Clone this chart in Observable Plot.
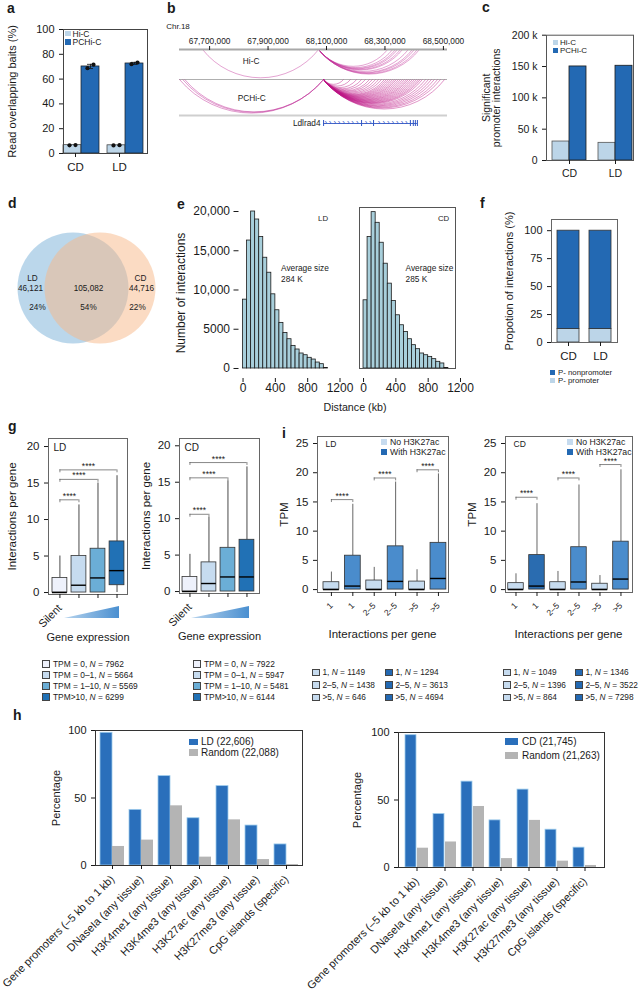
<!DOCTYPE html>
<html>
<head>
<meta charset="utf-8">
<script src="https://cdn.jsdelivr.net/npm/d3@7"></script>
<script src="https://cdn.jsdelivr.net/npm/@observablehq/plot@0.6"></script>
<style>
html,body{margin:0;padding:0;background:#fff;}
#root{position:relative;width:640px;height:993px;overflow:hidden;font-family:"Liberation Sans",Arial,Helvetica,sans-serif;color:#1a1a1a;background:#fff;}
#root > svg{position:absolute;overflow:visible;}
.t{position:absolute;white-space:nowrap;line-height:1;}
.letter{position:absolute;font-weight:bold;font-size:14px;line-height:14px;}
.leg{position:absolute;white-space:nowrap;}
.leg .row{display:flex;align-items:center;}
.leg .sq{display:inline-block;box-sizing:border-box;flex:none;}
</style>
</head>
<body>
<div id="root"></div>
<script>
// ================= DATA =================
// a
const aGroups = ["CD", "LD"];
const aHiC = [6.7, 6.6];
const aHiCReps = [[6.6, 6.8], [6.5, 6.7]];
const aPCHiC = [70.2, 72.6];
const aPCHiCReps = [[68.8, 71.6], [72.0, 73.3]];
const aPCHiCLow = [68.5, 71.8];
const aPCHiCHigh = [71.9, 73.5];
const aTicks = [0, 20, 40, 60, 80, 100];
// b (genomic coordinates, Chr.18)
const bTicks = [67700000, 67900000, 68100000, 68300000, 68500000];
const bHiCStart = [67676000, 68073000, 68073000, 68073000, 68073000, 68073000, 68073000, 68073000, 68073000, 68073000, 68073000, 68073000];
const bHiCEnd = [68073000, 68309000, 68326000, 68336000, 68343000, 68353000, 68360000, 68380000, 68394000, 68401000, 68411000, 68418000];
const bPCStart = [67597000, 67608000, 67615000];
const bPCEnd = [68090000, 68090000, 68090000];
const bPCAnchor = 68090000;
const bPCTargets = [68158000, 68182000, 68203000, 68220000, 68233000, 68247000, 68257000, 68268000, 68278000, 68288000, 68298000, 68305000, 68312000, 68319000, 68326000, 68333000, 68339000, 68346000, 68353000, 68360000, 68367000, 68374000, 68380000, 68387000, 68394000, 68401000, 68408000, 68415000, 68421000, 68428000, 68439000, 68449000, 68459000, 68469000, 68480000, 68490000, 68504000];
const bGeneName = "Ldlrad4";
const bGeneStart = 68090000, bGeneEnd = 68411000;
const bGeneExons = [68090000, 68220000, 68261000, 68387000, 68397000, 68404000, 68411000];
const bGeneStrand = [68097000, 68112000, 68128000, 68143000, 68158000, 68174000, 68189000, 68205000, 68235000, 68250000, 68280000, 68296000, 68311000, 68327000, 68342000, 68358000, 68373000];
// c
const cGroups = ["CD", "LD"];
const cHiC = [30300, 28200];
const cPCHiC = [150100, 151200];
const cTicks = [0, 50000, 100000, 150000, 200000];
// d
const dSets = ["LD", "CD"];
const dOnly = ["46,121", "44,716"];
const dOnlyPct = ["24%", "22%"];
const dShared = "105,082";
const dSharedPct = "54%";
// e
const eBinStart = [0, 50, 100, 150, 200, 250, 300, 350, 400, 450, 500, 550, 600, 650, 700, 750, 800, 850, 900, 950, 1000];
const eBinEnd = [50, 100, 150, 200, 250, 300, 350, 400, 450, 500, 550, 600, 650, 700, 750, 800, 850, 900, 950, 1000, 1050];
const eLD = [8770, 16300, 20000, 18980, 16740, 14110, 12200, 9450, 7420, 5810, 4530, 3730, 2880, 2420, 1910, 1690, 1360, 1140, 760, 550, 60];
const eCD = [8690, 16740, 19920, 18560, 16020, 13350, 10810, 8600, 6780, 5510, 4660, 3730, 2970, 2460, 1910, 1690, 1480, 1190, 850, 640, 60];
const eAvg = ["Average size\n284 K", "Average size\n285 K"];
const eYTicks = [0, 5000, 10000, 15000, 20000];
const eXTicks = [0, 400, 800, 1200];
// f
const fGroups = ["CD", "LD"];
const fPromoter = [12, 12];
const fNonPromoter = [88, 88];
const fTicks = [0, 25, 50, 75, 100];
// g
const gXLabels = ["Silent", "", "", ""];
const gLDq1 = [0, 0, 0, 1], gLDmed = [0, 1, 2, 3], gLDq3 = [2, 5, 6, 7], gLDlo = [0, 0, 0, 0], gLDhi = [5, 12, 15, 16];
const gCDq1 = [0, 0, 0, 0], gCDmed = [0, 1.1, 2, 2], gCDq3 = [2, 4, 6, 7.1], gCDlo = [0, 0, 0, 0], gCDhi = [5.1, 10.2, 15.2, 17.1];
const gLDBrFrom = [0, 0, 0], gLDBrTo = [1, 2, 3], gLDBrY = [12.7, 15.5, 16.8];
const gCDBrFrom = [0, 0, 0], gCDBrTo = [1, 2, 3], gCDBrY = [10.6, 15.6, 17.7];
const gTicks = [0, 5, 10, 15, 20];
const gLegCats = ["TPM = 0", "TPM = 0\u20131", "TPM = 1\u201310", "TPM>10"];
const gLDN = [7962, 5664, 5569, 6299];
const gCDN = [7922, 5947, 5481, 6144];
// i
const iXLabels = ["1", "1", "2\u20135", "2\u20135", ">5", ">5"];
const iLDq1 = [0, 0, 0, 0, 0, 0], iLDmed = [0, 0.6, 0, 1.4, 0, 1.9], iLDq3 = [1.26, 5.8, 1.55, 7.4, 1.37, 8.0], iLDlo = [0, 0, 0, 0, 0, 0], iLDhi = [3.0, 14.6, 3.8, 18.4, 3.4, 19.8];
const iCDq1 = [0, 0, 0, 0, 0, 0], iCDmed = [0, 0.6, 0, 1.3, 0, 1.8], iCDq3 = [1.1, 5.9, 1.26, 7.25, 1.0, 8.2], iCDlo = [0, 0, 0, 0, 0, 0], iCDhi = [2.7, 14.7, 3.1, 17.9, 2.4, 20.5];
const iLDBrFrom = [0, 2, 4], iLDBrTo = [1, 3, 5], iLDBrY = [15.4, 19.1, 20.5];
const iCDBrFrom = [0, 2, 4], iCDBrTo = [1, 3, 5], iCDBrY = [15.8, 19.1, 21.4];
const iTicks = [0, 5, 10, 15, 20, 25];
const iLegCats = ["1", "2\u20135", ">5"];
const iLDNo = [1149, 1438, 646], iLDWith = [1294, 3613, 4694];
const iCDNo = [1049, 1396, 864], iCDWith = [1346, 3522, 7298];
// h
const hCats = ["Gene promoters (\u20135 kb to 1 kb)", "DNaseIa (any tissue)", "H3K4me1 (any tissue)", "H3K4me3 (any tissue)", "H3K27ac (any tissue)", "H3K27me3 (any tissue)", "CpG islands (specific)"];
const hLD = [98.3, 41.2, 66.2, 35.0, 58.8, 29.6, 15.6];
const hLDRandom = [14.1, 18.8, 44.2, 6.2, 33.8, 4.4, 0.7];
const hCD = [98.0, 39.6, 63.6, 34.9, 57.7, 28.0, 14.7];
const hCDRandom = [14.3, 18.9, 45.2, 6.6, 34.9, 4.7, 1.5];
const hLegLD = ["LD (22,606)", "Random (22,088)"];
const hLegCD = ["CD (21,745)", "Random (21,263)"];
const hTicks = [0, 50, 100];

// ================= STYLE / HELPERS =================
const FONT = '"Liberation Sans", Arial, Helvetica, sans-serif';
const LIGHT = "#bcd5e8", DARK = "#2369b3";
const root = document.getElementById("root");
function put(el, left, top) { el.style.position = "absolute"; el.style.left = left + "px"; el.style.top = top + "px"; root.appendChild(el); return el; }
function sty(fs) { return {fontFamily: FONT, fontSize: fs + "px", background: "transparent", overflow: "visible", color: "#1a1a1a", maxWidth: "none"}; }
function text(html, cx, cy, fs, extra = "") { const d = document.createElement("div"); d.className = "t"; d.innerHTML = html; d.style.cssText = `font-size:${fs}px;transform:translate(-50%,-50%);${extra}`; return put(d, cx, cy); }
function letter(ch, x, baseline) { const d = document.createElement("div"); d.className = "letter"; d.textContent = ch; return put(d, x, baseline - 11.85); }
function legend(items, left, top, {fs = 8.4, w = 8, h = 8, rowH = 11, border = "0.7px solid #444", gap = 3} = {}) {
  const d = document.createElement("div"); d.className = "leg"; d.style.fontSize = fs + "px";
  for (const it of items) {
    const r = document.createElement("div"); r.className = "row"; r.style.height = rowH + "px";
    const s = document.createElement("span"); s.className = "sq";
    s.style.cssText = `width:${w}px;height:${h}px;background:${it.color};border:${it.border ?? border};margin-right:${gap}px;`;
    const t = document.createElement("span"); t.innerHTML = it.label;
    r.append(s, t); d.append(r);
  }
  return put(d, left, top);
}

// ================= PANEL a =================
{
  const hic = aGroups.map((g, i) => ({g, v: aHiC[i]}));
  const pc = aGroups.map((g, i) => ({g, v: aPCHiC[i], lo: aPCHiCLow[i], hi: aPCHiCHigh[i]}));
  const dotsFor = (reps, dxs) => dxs.map((dx, r) => Plot.dot(aGroups.map((g, i) => ({g, v: reps[i][r]})), {x: "g", y: "v", dx, r: 2.1, fill: "#111", stroke: "none"}));
  const svg = Plot.plot({
    width: 160, height: 190, marginLeft: 63, marginRight: 13, marginTop: 29, marginBottom: 37,
    style: sty(11),
    x: {domain: aGroups, paddingInner: 8 / 44, paddingOuter: 2 / 44, align: 0},
    y: {domain: [0, 100]},
    marks: [
      Plot.barY(hic, {x: "g", y: "v", fill: LIGHT, stroke: "#333", strokeWidth: 0.7, insetRight: 18}),
      Plot.barY(pc, {x: "g", y: "v", fill: DARK, stroke: "#1a1a1a", strokeWidth: 0.7, insetLeft: 18}),
      Plot.ruleX(pc, {x: "g", y1: "lo", y2: "hi", dx: 9, stroke: "#111", strokeWidth: 0.8}),
      Plot.tickY(pc, {x: "g", y: "lo", insetLeft: 24, insetRight: 6, stroke: "#111", strokeWidth: 0.8}),
      Plot.tickY(pc, {x: "g", y: "hi", insetLeft: 24, insetRight: 6, stroke: "#111", strokeWidth: 0.8}),
      ...dotsFor(aHiCReps, [-12, -6]),
      ...dotsFor(aPCHiCReps, [6, 12]),
      Plot.frame({stroke: "#444"}),
      Plot.axisY({ticks: aTicks, tickSize: 4, fontSize: 11, label: "Read overlapping baits (%)", labelAnchor: "center", labelOffset: 55.5, labelArrow: "none"}),
      Plot.axisX({tickSize: 4, fontSize: 11.5, dx: -6, label: null})
    ]
  });
  put(svg, 0, 0);
  legend([{label: "Hi-C", color: LIGHT}, {label: "PCHi-C", color: DARK}], 65, 29.5, {fs: 8.5, w: 5.5, h: 5.5, rowH: 8.4, border: "none", gap: 2});
  letter("a", 7, 13.3);
}

// ================= PANEL b =================
{
  const hic = bHiCStart.map((s, i) => ({s, e: bHiCEnd[i], t: 0}));
  const pcBig = bPCStart.map((s, i) => ({s, e: bPCEnd[i], t: 30}));
  const pcSmall = bPCTargets.map(e => ({s: bPCAnchor, e, t: 30}));
  const svg = Plot.plot({
    width: 330, height: 190, marginLeft: 19, marginRight: 43, marginTop: 49, marginBottom: 61,
    style: sty(8.3),
    x: {domain: [67597000, 68514000]},
    y: {domain: [0, 80], range: [49, 129], axis: null},
    marks: [
      Plot.ruleY([30], {stroke: "#9a9a9a", strokeWidth: 0.8}),
      Plot.ruleY([66], {stroke: "#cfcfcf", strokeWidth: 2}),
      Plot.arrow(hic, {x1: "s", x2: "e", y1: "t", y2: "t", bend: -52, headLength: 0, stroke: "#c2349a", strokeOpacity: 0.6, strokeWidth: 0.75, strokeLinecap: "butt"}),
      Plot.arrow(pcBig, {x1: "s", x2: "e", y1: "t", y2: "t", bend: -50, headLength: 0, stroke: "#c2349a", strokeOpacity: 0.65, strokeWidth: 0.75, strokeLinecap: "butt"}),
      Plot.arrow(pcSmall, {x1: "s", x2: "e", y1: "t", y2: "t", bend: -52, headLength: 0, stroke: "#bb1485", strokeOpacity: 0.6, strokeWidth: 0.75, strokeLinecap: "butt"}),
      Plot.ruleY([0], {stroke: "#a8a8a8", strokeWidth: 2}),
      Plot.text(["Hi-C"], {x: 67842000, y: 12, fontSize: 8.3}),
      Plot.text(["PCHi-C"], {x: 67844000, y: 49, fontSize: 8.3}),
      Plot.ruleY([{s: bGeneStart, e: bGeneEnd}], {x1: "s", x2: "e", y: 74, stroke: "#2f55c4", strokeWidth: 0.9}),
      Plot.ruleX(bGeneExons, {x: d => d, y1: 71, y2: 77, stroke: "#2f55c4", strokeWidth: 1}),
      Plot.text(bGeneStrand, {x: d => d, y: 74, text: () => "\u203A", fill: "#2f55c4", fontSize: 7.5, dy: -0.5}),
      Plot.text([bGeneName], {x: bGeneStart, y: 74, textAnchor: "end", dx: -3, fontSize: 8.3}),
      Plot.axisX({anchor: "top", ticks: bTicks, tickFormat: d3.format(","), tickSize: 4, tickPadding: 2, fontSize: 8.3, label: null})
    ]
  });
  put(svg, 160, 0);
  text("Chr.18", 178, 27, 8);
  letter("b", 167, 13.3);
}

// ================= PANEL c =================
{
  const hic = cGroups.map((g, i) => ({g, v: cHiC[i]}));
  const pc = cGroups.map((g, i) => ({g, v: cPCHiC[i]}));
  const svg = Plot.plot({
    width: 160, height: 190, marginLeft: 66, marginRight: 7, marginTop: 34.7, marginBottom: 30,
    style: sty(10.5),
    x: {domain: cGroups, paddingInner: 12 / 46, paddingOuter: 0.0755, align: 0.875},
    y: {domain: [0, 200000]},
    marks: [
      Plot.barY(hic, {x: "g", y: "v", fill: LIGHT, stroke: "#555", strokeWidth: 0.8, insetRight: 17}),
      Plot.barY(pc, {x: "g", y: "v", fill: DARK, stroke: "#1a1a1a", strokeWidth: 0.8, insetLeft: 17}),
      Plot.frame({stroke: "#555"}),
      Plot.axisY({ticks: cTicks, tickFormat: d => d === 0 ? "0" : d / 1000 + " k", tickSize: 4, fontSize: 10.5, label: "Significant\npromoter interactions", labelAnchor: "center", labelOffset: 64, labelArrow: "none"}),
      Plot.axisX({tickSize: 4, fontSize: 10.5, label: null})
    ]
  });
  put(svg, 480, 0);
  legend([{label: "Hi-C", color: LIGHT}, {label: "PCHi-C", color: DARK}], 553, 39, {fs: 8, w: 5, h: 5, rowH: 7.6, border: "none", gap: 2});
  letter("c", 482, 11.7);
}

// ================= PANEL d (Venn) =================
{
  const circles = [{set: dSets[0], cx: 72.5, fill: "#78afd7"}, {set: dSets[1], cx: 99.5, fill: "#f7b888"}];
  const labels = [
    {x: 32, y: 83, t: dSets[0]}, {x: 30, y: 93, t: dOnly[0]}, {x: 37, y: 112, t: dOnlyPct[0]},
    {x: 88, y: 93, t: dShared}, {x: 88, y: 112, t: dSharedPct},
    {x: 140, y: 83, t: dSets[1]}, {x: 141, y: 93, t: dOnly[1]}, {x: 137, y: 112, t: dOnlyPct[1]}
  ];
  const svg = Plot.plot({
    width: 160, height: 200, margin: 0,
    style: sty(8.2),
    x: {domain: [0, 160], range: [0, 160], axis: null},
    y: {domain: [0, 200], range: [0, 200], axis: null},
    marks: [
      Plot.dot(circles, {x: "cx", y: 92.5, r: 55.5, fill: "fill", fillOpacity: 0.5, stroke: "none"}),
      Plot.text(labels, {x: "x", y: "y", text: "t", fontSize: 8.2, fill: "#1a1a1a"})
    ]
  });
  put(svg, 0, 195);
  letter("d", 8, 208);
}

// ================= PANEL e =================
{
  const mk = (vals, {left, width, mL, mR, yAxis, lab, avg, avgX, frame}) => {
    const rows = vals.map((v, i) => ({a: eBinStart[i], b: eBinEnd[i], v}));
    const marks = [
      Plot.rectY(rows, {x1: "a", x2: "b", y: "v", fill: "#a8cfdb", stroke: "#1a1a1a", strokeWidth: 0.8}),
      Plot.text([lab], {x: 990, y: 19100, fontSize: 7.8}),
      Plot.text([avg], {x: avgX, y: 13400, textAnchor: "start", lineAnchor: "top", lineHeight: 1.35, fontSize: 8.3}),
      Plot.axisX({ticks: eXTicks, tickFormat: d => String(d), tickSize: 4, tickPadding: 1, fontSize: 12, label: null})
    ];
    if (frame) marks.push(Plot.frame({stroke: "#555", insetBottom: 10}));
    if (yAxis) marks.push(Plot.axisY({ticks: eYTicks, tickFormat: d => d >= 10000 ? d3.format(",")(d) : String(d), tickSize: 5, fontSize: 12, label: "Number of interactions", labelAnchor: "center", labelOffset: 62.5, labelArrow: "none"}));
    const svg = Plot.plot({
      width, height: 220, marginLeft: mL, marginRight: mR, marginTop: 12, marginBottom: 37,
      style: sty(12),
      x: {domain: [-50, 1138]},
      y: {domain: [-1275, 20510], axis: null},
      marks
    });
    put(svg, left, 195);
  };
  mk(eLD, {left: 150, width: 200, mL: 88.5, mR: 15.5, yAxis: true, lab: "LD", avg: eAvg[0], avgX: 470, frame: false});
  mk(eCD, {left: 350, width: 115, mL: 9, mR: 10, yAxis: false, lab: "CD", avg: eAvg[1], avgX: 520, frame: true});
  text("Distance (kb)", 355, 407, 10.7);
  letter("e", 177, 209);
}

// ================= PANEL f =================
{
  const rows = fGroups.flatMap((g, i) => [{g, k: "P- promoter", v: fPromoter[i]}, {g, k: "P- nonpromoter", v: fNonPromoter[i]}]);
  const svg = Plot.plot({
    width: 170, height: 210, marginLeft: 81, marginRight: 23, marginTop: 24, marginBottom: 63,
    style: sty(11),
    x: {domain: fGroups, paddingInner: 0.32, paddingOuter: 0.17},
    y: {domain: [0, 110]},
    color: {domain: ["P- nonpromoter", "P- promoter"], range: [DARK, LIGHT]},
    marks: [
      Plot.barY(rows, {x: "g", y: "v", fill: "k", stroke: "#333", strokeWidth: 0.8}),
      Plot.frame({stroke: "#666"}),
      Plot.axisY({ticks: fTicks, tickSize: 4, fontSize: 11, label: "Propotion of interactions (%)", labelAnchor: "center", labelOffset: 46.5, labelArrow: "none"}),
      Plot.axisX({tickSize: 4, fontSize: 11.5, label: null})
    ]
  });
  put(svg, 470, 195);
  legend([{label: "P- nonpromoter", color: DARK}, {label: "P- promoter", color: LIGHT}], 550, 369, {fs: 7.8, w: 5, h: 5, rowH: 7.6, border: "none", gap: 3});
  letter("f", 480, 208);
}

// ================= BOX PLOT HELPER (g, i) =================
function boxMarks(q1, med, q3, lo, hi, fills, hw, brFrom, brTo, brY, tk, whisk) {
  const rows = q1.map((_, i) => ({i, q1: q1[i], med: med[i], q3: q3[i], lo: lo[i], hi: hi[i], fill: fills[i]}));
  const br = brFrom.map((a, j) => ({a, b: brTo[j], y: brY[j]}));
  return [
    Plot.ruleX(rows, {x: "i", y1: "q3", y2: "hi", stroke: whisk, strokeWidth: 0.9}),
    Plot.ruleX(rows, {x: "i", y1: "lo", y2: "q1", stroke: whisk, strokeWidth: 0.9}),
    Plot.rect(rows, {x1: d => d.i - hw, x2: d => d.i + hw, y1: "q1", y2: "q3", fill: "fill", stroke: "#333", strokeWidth: 0.8}),
    Plot.ruleY(rows, {x1: d => d.i - hw, x2: d => d.i + hw, y: "med", stroke: "#000", strokeWidth: 1.4}),
    Plot.ruleY(br, {x1: "a", x2: "b", y: "y", stroke: "#555", strokeWidth: 0.7}),
    Plot.ruleX(br, {x: "a", y1: "y", y2: d => d.y - tk, stroke: "#555", strokeWidth: 0.7}),
    Plot.ruleX(br, {x: "b", y1: "y", y2: d => d.y - tk, stroke: "#555", strokeWidth: 0.7}),
    Plot.text(br, {x: d => (d.a + d.b) / 2, y: "y", text: () => "****", lineAnchor: "bottom", dy: -1, fontSize: 8.5})
  ];
}

// ================= PANEL g =================
{
  const fills = ["#eef1fb", "#c6dbef", "#6baed6", "#2171b5"];
  const mk = (d, {left, mL, mR, mB, yDom, xDom, lab, labelOffset}) => {
    const svg = Plot.plot({
      width: 135, height: 230, marginLeft: mL, marginRight: mR, marginTop: 38, marginBottom: mB,
      style: sty(11.5),
      x: {domain: xDom},
      y: {domain: yDom},
      marks: [
        ...boxMarks(d.q1, d.med, d.q3, d.lo, d.hi, fills, 0.39, d.bf, d.bt, d.by, 0.4, "#333"),
        Plot.frame({stroke: "#666"}),
        Plot.text([lab], {frameAnchor: "top-left", textAnchor: "start", lineAnchor: "top", dx: 5, dy: 5, fontSize: 10}),
        Plot.axisY({ticks: gTicks, tickSize: 4, fontSize: 11.5, label: "Interactions per gene", labelAnchor: "center", labelOffset, labelArrow: "none"}),
        Plot.axisX({ticks: [0, 1, 2, 3], tickFormat: i => gXLabels[i], tickRotate: -45, tickSize: 4, fontSize: 11, label: "Gene expression", labelAnchor: "center", labelOffset: 46.5, labelArrow: "none"})
      ]
    });
    put(svg, left, 400);
  };
  mk({q1: gLDq1, med: gLDmed, q3: gLDq3, lo: gLDlo, hi: gLDhi, bf: gLDBrFrom, bt: gLDBrTo, by: gLDBrY},
     {left: 0, mL: 48, mR: 8, mB: 36, yDom: [-0.27, 21.1], xDom: [-0.6, 3.55], lab: "LD", labelOffset: 40.5});
  mk({q1: gCDq1, med: gCDmed, q3: gCDq3, lo: gCDlo, hi: gCDhi, bf: gCDBrFrom, bt: gCDBrTo, by: gCDBrY},
     {left: 135, mL: 44, mR: 11, mB: 37, yDom: [-0.27, 21.0], xDom: [-0.55, 3.66], lab: "CD", labelOffset: 37.5});
  // expression wedges
  const ns = "http://www.w3.org/2000/svg";
  [[64, 119, "gA"], [191, 249, "gB"]].forEach(([x0, x1, id]) => {
    const s = document.createElementNS(ns, "svg");
    const w = x1 - x0, h = 12;
    s.setAttribute("width", w); s.setAttribute("height", h);
    s.innerHTML = `<defs><linearGradient id="${id}" x1="0" x2="1"><stop offset="0" stop-color="#b7d4ee"/><stop offset="1" stop-color="#4a8fd0"/></linearGradient></defs><polygon points="0,${h} ${w},0 ${w},${h}" fill="url(#${id})"/>`;
    put(s, x0, 606);
  });
  const gLegItems = N => gLegCats.map((c, i) => ({label: `${c}, <i>N</i> = ${N[i]}`, color: fills[i]}));
  legend(gLegItems(gLDN), 42, 658.5, {fs: 8.4, w: 8, h: 8, rowH: 11});
  legend(gLegItems(gCDN), 193, 658.5, {fs: 8.4, w: 8, h: 8, rowH: 11});
  letter("g", 8, 431);
}

// ================= PANEL i =================
{
  const NO = "#c6dbef", WITH = "#4a8ccc", WITH_D = "#2a6cb0";
  const mk = (d, {left, width, mL, mR, xDom, lab, fills, labelOffset}) => {
    const svg = Plot.plot({
      width, height: 230, marginLeft: mL, marginRight: mR, marginTop: 36, marginBottom: 38,
      style: sty(11.5),
      x: {domain: xDom},
      y: {domain: [-0.5, 26.2]},
      marks: [
        ...boxMarks(d.q1, d.med, d.q3, d.lo, d.hi, fills, 0.37, d.bf, d.bt, d.by, 0.5, "#555"),
        Plot.frame({stroke: "#666"}),
        Plot.text([lab], {frameAnchor: "top-left", textAnchor: "start", lineAnchor: "top", dx: 8, dy: 4, fontSize: 8.5}),
        Plot.axisY({ticks: iTicks, tickSize: 4, fontSize: 11.5, label: "TPM", labelAnchor: "center", labelOffset, labelArrow: "none"}),
        Plot.axisX({ticks: [0, 1, 2, 3, 4, 5], tickFormat: i => iXLabels[i], tickRotate: -45, tickSize: 4, fontSize: 8.5, label: null})
      ]
    });
    put(svg, left, 400);
  };
  mk({q1: iLDq1, med: iLDmed, q3: iLDq3, lo: iLDlo, hi: iLDhi, bf: iLDBrFrom, bt: iLDBrTo, by: iLDBrY},
     {left: 270, width: 190, mL: 47, mR: 12, xDom: [-0.65, 5.47], lab: "LD", fills: [NO, WITH, NO, WITH, NO, WITH], labelOffset: 38});
  mk({q1: iCDq1, med: iCDmed, q3: iCDq3, lo: iCDlo, hi: iCDhi, bf: iCDBrFrom, bt: iCDBrTo, by: iCDBrY},
     {left: 460, width: 180, mL: 45, mR: 8, xDom: [-0.5, 5.55], lab: "CD", fills: [NO, WITH_D, NO, WITH, NO, WITH], labelOffset: 38});
  text("Interactions per gene", 382.5, 635, 11.5);
  text("Interactions per gene", 568.5, 635, 11.5);
  const inLeg = [{label: "No H3K27ac", color: NO}, {label: "With H3K27ac", color: DARK}];
  legend(inLeg, 381, 437, {fs: 8.7, w: 6, h: 6, rowH: 10, border: "none", gap: 3});
  legend(inLeg, 567, 437, {fs: 8.7, w: 6, h: 6, rowH: 10, border: "none", gap: 3});
  const col = (N, color) => iLegCats.map((c, i) => ({label: `${c}, <i>N</i> = ${N[i]}`, color}));
  const opt = {fs: 8.3, w: 7.5, h: 7.5, rowH: 12.5, gap: 3};
  legend(col(iLDNo, NO), 312, 666, opt);
  legend(col(iLDWith, DARK), 385, 666, opt);
  legend(col(iCDNo, NO), 503, 666, opt);
  legend(col(iCDWith, DARK), 575, 666, opt);
  letter("i", 282, 438);
}

// ================= PANEL h =================
{
  const BLUE = "#2a6fbb", GRAY = "#b4b4b4";
  const mk = (blue, gray, {left, mL, mR, mT, mB, labelOffset}) => {
    const b = hCats.map((c, i) => ({c, v: blue[i]}));
    const g = hCats.map((c, i) => ({c, v: gray[i]}));
    const svg = Plot.plot({
      width: 320, height: 273, marginLeft: mL, marginRight: mR, marginTop: mT, marginBottom: mB,
      style: sty(11),
      x: {domain: hCats, paddingInner: 5 / 29, paddingOuter: 0.155},
      y: {domain: [0, 100]},
      marks: [
        Plot.barY(b, {x: "c", y: "v", fill: BLUE, stroke: "#9ccbec", strokeWidth: 0.8, insetRight: 12}),
        Plot.barY(g, {x: "c", y: "v", fill: GRAY, insetLeft: 12}),
        Plot.frame({stroke: "#333"}),
        Plot.axisY({ticks: hTicks, tickSize: 4, fontSize: 11, label: "Percentage", labelAnchor: "center", labelOffset, labelArrow: "none"}),
        Plot.axisX({tickSize: 4, tickRotate: -45, fontSize: 11, label: null})
      ]
    });
    put(svg, left, 720);
  };
  mk(hLD, hLDRandom, {left: 0, mL: 95, mR: 18, mT: 10, mB: 128, labelOffset: 43});
  mk(hCD, hCDRandom, {left: 320, mL: 78, mR: 36, mT: 12, mB: 126, labelOffset: 45});
  legend([{label: hLegLD[0], color: BLUE}, {label: hLegLD[1], color: GRAY}], 189, 736.5, {fs: 10, w: 9, h: 6.5, rowH: 10.6, border: "none", gap: 3});
  legend([{label: hLegCD[0], color: BLUE}, {label: hLegCD[1], color: GRAY}], 505, 734, {fs: 10, w: 13, h: 7, rowH: 14, border: "none", gap: 4});
  letter("h", 13, 720);
}
</script>
</body>
</html>
